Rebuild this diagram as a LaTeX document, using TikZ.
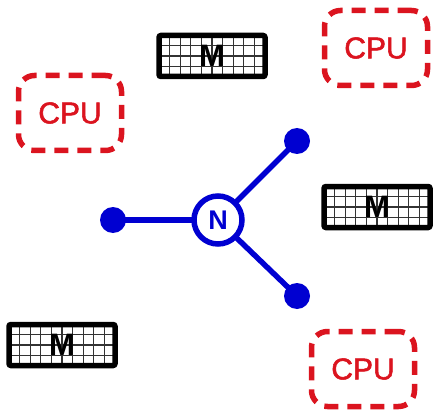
\documentclass[tikz,border=0pt]{standalone}
\usepackage{fontspec}
\setmainfont{Liberation Sans}
\newfontfamily\cpufont[FakeBold=1.8]{Liberation Sans}
\usepackage{tikz}
\usetikzlibrary{calc}
\definecolor{cpured}{rgb}{0.86, 0.08, 0.12}
\definecolor{netblue}{rgb}{0.0, 0.0, 0.82}
\definecolor{gridgray}{rgb}{0.2, 0.2, 0.2}

\begin{document}
\begin{tikzpicture}[
    x=1pt, y=-1pt,
    % Processor boxes: red dashed rounded outline
    cpu/.style={
        draw=cpured,
        line width=5.5pt,
        dash pattern=on 14pt off 9pt,
        rounded corners=16pt,
        minimum width=103pt,
        minimum height=75pt,
        inner sep=0pt,
        text=cpured,
        font=\cpufont\fontsize{30}{30}\selectfont
    },
    % Memory boxes: thick black frame with a fine grid behind the letter
    memory/.style={
        draw=black,
        line width=5.5pt,
        rounded corners=2pt,
        minimum width=106pt,
        minimum height=41pt,
        inner sep=0pt,
        font=\bfseries\fontsize{31}{31}\selectfont,
        path picture={
            \foreach \k in {1,...,9} {
                \draw[gridgray, line width=1.2pt]
                    ($(path picture bounding box.north west)!\k/10!(path picture bounding box.north east)$) --
                    ($(path picture bounding box.south west)!\k/10!(path picture bounding box.south east)$);
            }
            \foreach \k in {1,2,3} {
                \draw[gridgray, line width=1.2pt]
                    ($(path picture bounding box.north west)!\k/4!(path picture bounding box.south west)$) --
                    ($(path picture bounding box.north east)!\k/4!(path picture bounding box.south east)$);
            }
        }
    },
    % Network switch and its ports
    hub/.style={
        circle, draw=netblue, line width=5.5pt, fill=white,
        minimum size=48pt, inner sep=0pt,
        text=netblue, font=\bfseries\fontsize{27}{27}\selectfont
    },
    port/.style={circle, fill=netblue, minimum size=26pt, inner sep=0pt},
    link/.style={draw=netblue, line width=5.5pt}
]
    \useasboundingbox (0,0) rectangle (433,414);

    % Processors
    \foreach \n/\x/\y in {1/70/113, 2/376/48, 3/363/369} {
        \node (cpu-\n) [cpu] at (\x,\y) {CPU};
    }

    % Memories
    \foreach \n/\x/\y in {1/212/56, 2/377/207, 3/62/345} {
        \node (mem-\n) [memory] at (\x,\y) {M};
    }

    % --- Network in the middle ---
    \node (port-1) [port] at (113,220) {};
    \node (port-2) [port] at (297,141) {};
    \node (port-3) [port] at (297,296) {};
    \foreach \p in {1,2,3} {
        \draw[link] (218,220) -- (port-\p.center);
    }
    \node (net) [hub] at (218,220) {N};
\end{tikzpicture}
\end{document}
